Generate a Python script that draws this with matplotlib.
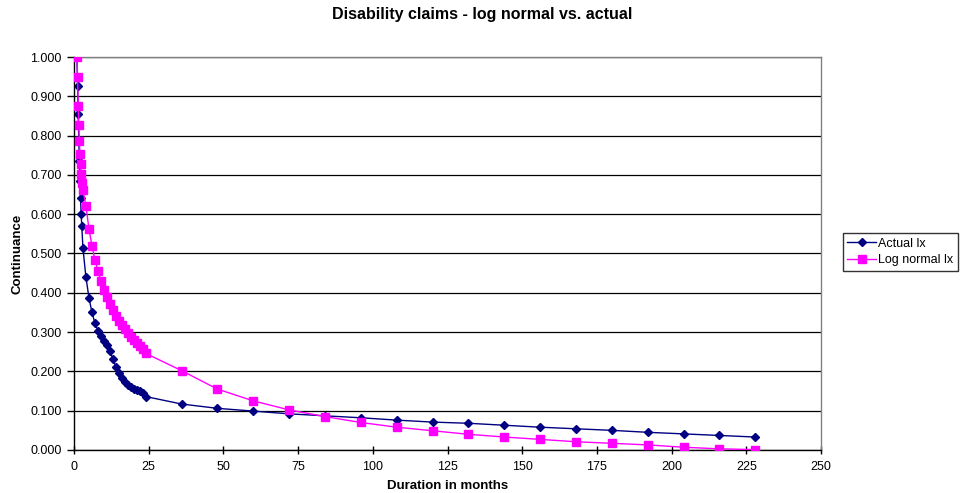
import matplotlib
matplotlib.use("Agg")
import matplotlib.pyplot as plt
from matplotlib.ticker import MultipleLocator, FormatStrFormatter

plt.rcParams['font.family'] = ['Liberation Sans', 'DejaVu Sans']

# Duration in months (finer steps early on, then monthly, then yearly)
months = [1.0, 1.2, 1.4, 1.6, 1.8, 2.0, 2.2, 2.4, 2.6, 3.0,
          4, 5, 6, 7, 8, 9, 10, 11, 12, 13, 14, 15, 16, 17, 18, 19, 20,
          21, 22, 23, 24,
          36, 48, 60, 72, 84, 96, 108, 120, 132, 144, 156, 168, 180,
          192, 204, 216, 228]

actual_lx = [1.000, 0.925, 0.855, 0.790, 0.735, 0.685, 0.640, 0.600, 0.570, 0.513,
             0.439, 0.388, 0.350, 0.323, 0.304, 0.289, 0.278, 0.267, 0.253,
             0.231, 0.212, 0.197, 0.184, 0.174, 0.166, 0.161, 0.156, 0.152,
             0.149, 0.146, 0.136,
             0.117, 0.106, 0.099, 0.092, 0.087, 0.082, 0.076, 0.071, 0.068,
             0.063, 0.058, 0.054, 0.050, 0.045, 0.041, 0.037, 0.033]

lognormal_lx = [1.000, 0.948, 0.876, 0.826, 0.787, 0.752, 0.727, 0.702, 0.680, 0.662,
                0.621, 0.563, 0.520, 0.484, 0.455, 0.430, 0.408, 0.389, 0.371,
                0.356, 0.342, 0.329, 0.318, 0.307, 0.297, 0.288, 0.280, 0.272,
                0.265, 0.258, 0.246,
                0.202, 0.155, 0.125, 0.102, 0.085, 0.070, 0.058, 0.049, 0.040,
                0.033, 0.027, 0.021, 0.017, 0.013, 0.007, 0.003, 0.001]

fig = plt.figure(figsize=(9.65, 4.93), dpi=100)
ax = fig.add_axes([74 / 965, 1 - 450 / 493, (821 - 74) / 965, (450 - 57) / 493])

ax.plot(months, actual_lx, color='#000080', lw=1.0, marker='D', ms=4.2,
        mfc='#000080', mec='#000080', label='Actual lx', zorder=2)
ax.plot(months, lognormal_lx, color='#FF00FF', lw=1.0, marker='s', ms=6,
        mfc='#FF00FF', mec='#FF00FF', label='Log normal lx', zorder=3)

ax.set_xlim(0, 250)
ax.set_ylim(0, 1.0)
ax.xaxis.set_major_locator(MultipleLocator(25))
ax.yaxis.set_major_locator(MultipleLocator(0.1))
ax.yaxis.set_major_formatter(FormatStrFormatter('%.3f'))
ax.grid(axis='y', color='black', lw=0.9)
ax.set_axisbelow(True)

ax.tick_params(axis='x', direction='inout', length=6, width=1, labelsize=9, pad=5)
ax.tick_params(axis='y', direction='out', length=5, width=1, labelsize=9, pad=4)

for side in ('left', 'bottom'):
    ax.spines[side].set_color('black')
    ax.spines[side].set_linewidth(1.0)
for side in ('right', 'top'):
    ax.spines[side].set_color('#808080')
    ax.spines[side].set_linewidth(1.0)

ax.set_xlabel('Duration in months', fontsize=9.5, fontweight='bold', labelpad=5)
ax.set_ylabel('Continuance', fontsize=9.5, fontweight='bold', labelpad=5)
fig.text(0.5, 1 - 15 / 493, 'Disability claims - log normal vs. actual',
         ha='center', va='center', fontsize=11.5, fontweight='bold')

leg = fig.legend(loc='center left', bbox_to_anchor=(843 / 965, 1 - 252 / 493),
                 frameon=True, fancybox=False, edgecolor='black', fontsize=9,
                 handlelength=2.3, handletextpad=0.15, borderpad=0.35,
                 labelspacing=0.35, borderaxespad=0)
leg.get_frame().set_linewidth(1.0)

fig.savefig('out.png', dpi=100)
